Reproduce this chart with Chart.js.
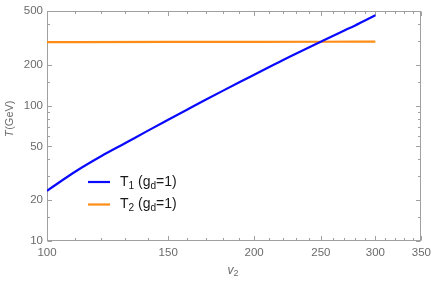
<!DOCTYPE html>
<html><head><meta charset="utf-8">
<script src="https://cdn.jsdelivr.net/npm/chart.js@4"></script>
<style>html,body{margin:0;padding:0;background:#fff}#wrap{width:436px;height:285px;position:relative}</style>
</head><body><div id="wrap"><canvas id="c"></canvas></div>
<script>
// ---- data ----
const v2T1 = [100,110,120,130,140,150,160,170,180,190,200,220,250,270,280,300];
const T1   = [23.5,32.6,42.4,52.9,65.0,78.5,93.6,110.3,128.4,148,169,216,296,357,389,464];
const v2T2 = [100,150,200,250,300];
const T2   = [294,295,295.5,296,297];
const seriesLabels = ['T_1 (g_d=1)', 'T_2 (g_d=1)'];
const xMajorTicks = [100,150,200,250,300,350];
const xMinorTicks = [110,120,130,140,160,170,180,190,210,220,230,240,260,270,280,290,310,320,330,340];
const yMajorTicks = [10,20,50,100,200,500];
const yMinorTicks = [15,30,40,60,70,80,90,150,300,400];
const xTitle = ['v','2'];
const yTitle = ['T','(GeV)'];

const FAM = '"Liberation Sans", Arial, sans-serif';
const GRAY = '#6b6b6b';
const FRAME = '#a0a0a0';
const colors = ['#0a0aff', '#ff8c14'];

function drawRich(ctx, str, x, y, size, color){
  // "_c" => subscript c
  ctx.save();
  ctx.fillStyle = color; ctx.textBaseline = 'middle'; ctx.textAlign = 'left';
  let i = 0, cx = x;
  while (i < str.length){
    if (str[i] === '_' && i+1 < str.length){
      ctx.font = (size*0.72).toFixed(1) + 'px ' + FAM;
      ctx.fillText(str[i+1], cx, y + size*0.28);
      cx += ctx.measureText(str[i+1]).width;
      i += 2;
    } else {
      let j = i; while (j < str.length && str[j] !== '_') j++;
      const seg = str.slice(i, j);
      ctx.font = size + 'px ' + FAM;
      ctx.fillText(seg, cx, y);
      cx += ctx.measureText(seg).width;
      i = j;
    }
  }
  ctx.restore();
}

const framePlugin = {
  id: 'frame',
  beforeDatasetsDraw(chart){
    const {ctx, chartArea: a, scales} = chart;
    ctx.save();
    ctx.strokeStyle = FRAME; ctx.lineWidth = 1;
    const L = Math.round(a.left)+0.5, R = Math.round(a.right)-0.5, T = Math.round(a.top)+0.5, B = Math.round(a.bottom)-0.5;
    ctx.strokeRect(L, T, R-L, B-T);
    ctx.beginPath();
    scales.x.ticks.forEach(t => {
      const px = Math.round(scales.x.getPixelForValue(t.value)) + 0.5;
      const len = xMajorTicks.includes(t.value) ? 4.5 : 2.5;
      ctx.moveTo(px, B); ctx.lineTo(px, B - len);
      ctx.moveTo(px, T); ctx.lineTo(px, T + len);
    });
    scales.y.ticks.forEach(t => {
      const py = Math.round(scales.y.getPixelForValue(t.value)) + 0.5;
      const len = yMajorTicks.includes(t.value) ? 4.5 : 2.5;
      ctx.moveTo(L, py); ctx.lineTo(L + len, py);
      ctx.moveTo(R, py); ctx.lineTo(R - len, py);
    });
    ctx.stroke();
    ctx.restore();
  },
  afterDraw(chart){
    const {ctx} = chart;
    // legend
    chart.data.datasets.forEach((ds, i) => {
      const y = 182 + i*22.5;
      ctx.save();
      ctx.strokeStyle = ds.borderColor; ctx.lineWidth = 2.2;
      ctx.beginPath(); ctx.moveTo(88, y); ctx.lineTo(110, y); ctx.stroke();
      ctx.restore();
      drawRich(ctx, ds.label, 120, y, 14, '#1a1a1a');
    });
    // y title
    ctx.save();
    ctx.translate(10, 119);
    ctx.rotate(-Math.PI/2);
    ctx.fillStyle = GRAY; ctx.textBaseline = 'middle';
    ctx.font = 'italic 11px ' + FAM;
    const w1 = ctx.measureText(yTitle[0]).width;
    ctx.font = '11px ' + FAM;
    const w2 = ctx.measureText(yTitle[1]).width;
    let sx = -(w1 + w2)/2;
    ctx.font = 'italic 11px ' + FAM; ctx.textAlign = 'left';
    ctx.fillText(yTitle[0], sx, 0);
    ctx.font = '11px ' + FAM;
    ctx.fillText(yTitle[1], sx + w1 + 0.5, 0);
    ctx.restore();
    // x title
    ctx.save();
    ctx.fillStyle = GRAY; ctx.textBaseline = 'middle'; ctx.textAlign = 'left';
    ctx.font = 'italic 12px ' + FAM;
    const vw = ctx.measureText(xTitle[0]).width;
    ctx.font = '9px ' + FAM;
    const sw = ctx.measureText(xTitle[1]).width;
    const x0 = 233 - (vw + sw)/2;
    ctx.font = 'italic 12px ' + FAM;
    ctx.fillText(xTitle[0], x0, 271);
    ctx.font = '9px ' + FAM;
    ctx.fillText(xTitle[1], x0 + vw, 274);
    ctx.restore();
  }
};

const tickFont = {size: 11.5, family: FAM};

new Chart(document.getElementById('c'), {
  type: 'line',
  data: {
    datasets: [
      {label: seriesLabels[0], data: v2T1.map((v,i)=>({x:v, y:T1[i]})), borderColor: colors[0], backgroundColor: colors[0], borderWidth: 2.2, pointRadius: 0, cubicInterpolationMode: 'monotone', fill: false},
      {label: seriesLabels[1], data: v2T2.map((v,i)=>({x:v, y:T2[i]})), borderColor: colors[1], backgroundColor: colors[1], borderWidth: 2.2, pointRadius: 0, cubicInterpolationMode: 'monotone', fill: false}
    ]
  },
  options: {
    responsive: true, maintainAspectRatio: false, animation: false,
    layout: {padding: {left: 0, top: 7, right: 12, bottom: 0}},
    plugins: {legend: {display: false}, tooltip: {enabled: false}},
    scales: {
      x: {
        type: 'logarithmic', min: 100, max: 350,
        afterBuildTicks: s => { s.ticks = [...xMajorTicks, ...xMinorTicks].sort((a,b)=>a-b).map(v=>({value:v})); },
        afterFit: s => { s.height = 44; },
        grid: {display: false, drawTicks: false}, border: {display: false},
        ticks: {autoSkip: false, maxRotation: 0, minRotation: 0, padding: 5, color: GRAY, font: tickFont,
          callback: v => xMajorTicks.includes(v) ? String(v) : ''}
      },
      y: {
        type: 'logarithmic', min: 10, max: 500,
        afterBuildTicks: s => { s.ticks = [...yMajorTicks, ...yMinorTicks].sort((a,b)=>a-b).map(v=>({value:v})); },
        afterFit: s => { s.width = 47; },
        grid: {display: false, drawTicks: false}, border: {display: false},
        ticks: {autoSkip: false, padding: 4, color: GRAY, font: tickFont,
          callback: v => yMajorTicks.includes(v) ? String(v) : ''}
      }
    }
  },
  plugins: [framePlugin]
});
</script></body></html>
